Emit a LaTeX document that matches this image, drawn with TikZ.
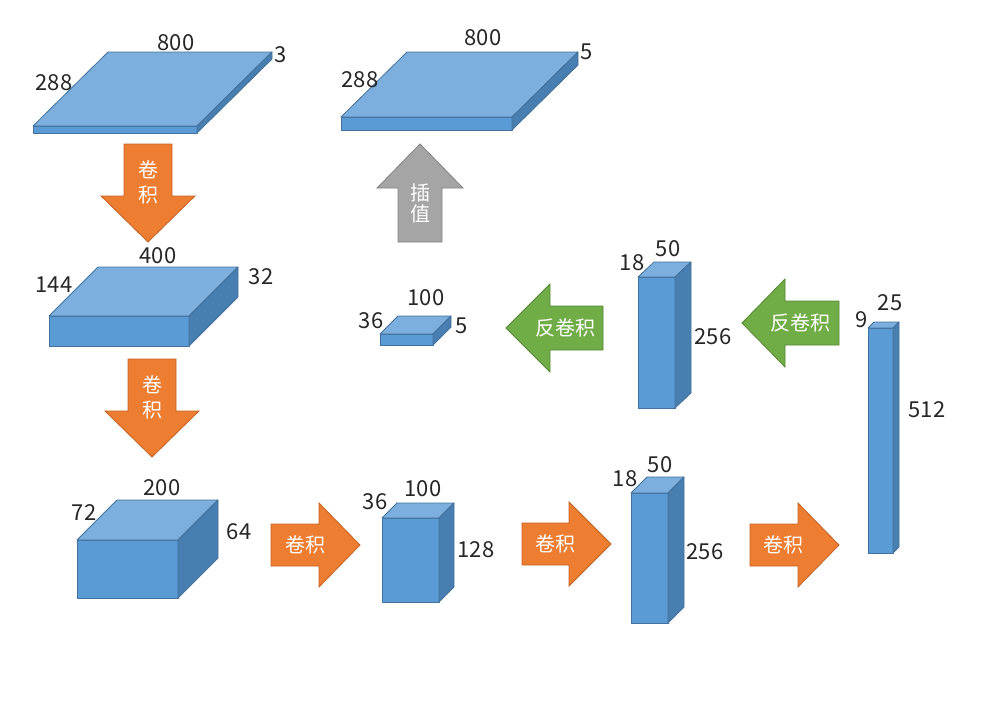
\documentclass[tikz,border=0pt]{standalone}
\usepackage{fontspec}
\setmainfont{Noto Sans CJK SC}
\usepackage{tikz}
\usetikzlibrary{positioning, calc}
\usepackage{xcolor}

\definecolor{boxfront}{RGB}{91,155,213}
\definecolor{boxtop}{RGB}{124,175,221}
\definecolor{boxside}{RGB}{73,126,176}
\definecolor{boxedge}{RGB}{65,113,156}
\definecolor{convorange}{RGB}{237,125,49}
\definecolor{convedge}{RGB}{196,98,36}
\definecolor{deconvgreen}{RGB}{112,173,71}
\definecolor{deconvedge}{RGB}{84,135,52}
\definecolor{interpgray}{RGB}{165,165,165}
\definecolor{interpedge}{RGB}{130,130,130}

% front face, top face, side face of a layer block
\newcommand{\layerbox}[6]{%
  \draw[frontface] (#1,#2) rectangle (#3,#4);
  \draw[topface] (#1,#2) -- ++(#5,-#6) -- ++(#3-#1,0) -- (#3,#2) -- cycle;
  \draw[sideface] (#3,#2) -- ++(#5,-#6) -- ++(0,#4-#2) -- (#3,#4) -- cycle;
}

\begin{document}
\begin{tikzpicture}[
    x=1pt, y=-1pt,
    frontface/.style={fill=boxfront, draw=boxedge, line width=0.8pt, line join=round},
    topface/.style={fill=boxtop, draw=boxedge, line width=0.8pt, line join=round},
    sideface/.style={fill=boxside, draw=boxedge, line width=0.8pt, line join=round},
    conv/.style={fill=convorange, draw=convedge, line width=0.8pt},
    deconv/.style={fill=deconvgreen, draw=deconvedge, line width=0.8pt},
    interp/.style={fill=interpgray, draw=interpedge, line width=0.8pt},
    dimlabel/.style={font=\fontsize{22}{26}\selectfont, inner sep=0pt, text=black!85},
    oplabel/.style={font=\fontsize{20}{25}\selectfont, inner sep=0pt, text=white, align=center}
]
    \useasboundingbox (0,0) rectangle (1001,720);

    % Input 288 x 800 x 3
    \layerbox{33}{126}{197}{133}{75}{74}
    \node[dimlabel] (inw) at (176,43) {800};
    \node[dimlabel] (inc) at (281,55) {3};
    \node[dimlabel] (inh) at (54,83) {288};

    % Output 288 x 800 x 5
    \layerbox{341}{117}{512}{130}{66}{65}
    \node[dimlabel] (outw) at (483,38) {800};
    \node[dimlabel] (outc) at (587,52) {5};
    \node[dimlabel] (outh) at (360,80) {288};

    % Conv1 output 144 x 400 x 32
    \layerbox{49}{316}{189}{346}{49}{49}
    \node[dimlabel] (c1w) at (158,256) {400};
    \node[dimlabel] (c1h) at (54,285) {144};
    \node[dimlabel] (c1c) at (261,277) {32};

    % Deconv output 36 x 100 x 5
    \layerbox{380}{334}{433}{345}{18}{18}
    \node[dimlabel] (d2w) at (426,298) {100};
    \node[dimlabel] (d2h) at (371,321) {36};
    \node[dimlabel] (d2c) at (462,326) {5};

    % Deconv output 18 x 50 x 256
    \layerbox{638}{277}{675}{408}{16}{15}
    \node[dimlabel] (d1h) at (632,263) {18};
    \node[dimlabel] (d1w) at (668,249) {50};
    \node[dimlabel] (d1c) at (713,337) {256};

    % Conv2 output 72 x 200 x 64
    \layerbox{77}{540}{178}{598}{40}{40}
    \node[dimlabel] (c2w) at (162,488) {200};
    \node[dimlabel] (c2h) at (84,513) {72};
    \node[dimlabel] (c2c) at (239,532) {64};

    % Conv3 output 36 x 100 x 128
    \layerbox{382}{518}{439}{602}{15}{15}
    \node[dimlabel] (c3h) at (375,502) {36};
    \node[dimlabel] (c3w) at (423,489) {100};
    \node[dimlabel] (c3c) at (476,550) {128};

    % Conv4 output 18 x 50 x 256
    \layerbox{631}{493}{668}{623}{16}{16}
    \node[dimlabel] (c4h) at (625,479) {18};
    \node[dimlabel] (c4w) at (660,465) {50};
    \node[dimlabel] (c4c) at (705,552) {256};

    % Conv5 output 9 x 25 x 512
    \layerbox{868}{328}{893}{553}{6}{6}
    \node[dimlabel] (c5h) at (862,320) {9};
    \node[dimlabel] (c5w) at (890,303) {25};
    \node[dimlabel] (c5c) at (927,410) {512};

    % Convolution arrows
    \draw[conv] (124,144) -- (172,144) -- (172,196) -- (195,196) -- (148,242) -- (101,196) -- (124,196) -- cycle;
    \node[oplabel, text depth=0pt] (op1) at (148,182) {卷\\积};
    \draw[conv] (128,359) -- (176,359) -- (176,411) -- (199,411) -- (152,457) -- (105,411) -- (128,411) -- cycle;
    \node[oplabel] (op2) at (152,397) {卷\\积};
    \draw[conv] (271,524) -- (319,524) -- (319,503) -- (360,545) -- (319,587) -- (319,566) -- (271,566) -- cycle;
    \node[oplabel] (op3) at (305,545) {卷积};
    \draw[conv] (522,523) -- (569,523) -- (569,502) -- (611,544) -- (569,586) -- (569,565) -- (522,565) -- cycle;
    \node[oplabel] (op4) at (555,544) {卷积};
    \draw[conv] (750,524) -- (798,524) -- (798,503) -- (839,545) -- (798,587) -- (798,566) -- (750,566) -- cycle;
    \node[oplabel] (op5) at (783,545) {卷积};

    % Deconvolution arrows
    \draw[deconv] (839,301) -- (839,345) -- (785,345) -- (785,367) -- (742,323) -- (785,279) -- (785,301) -- cycle;
    \node[oplabel] (op6) at (800,323) {反卷积};
    \draw[deconv] (603,306) -- (603,350) -- (550,350) -- (550,372) -- (506,328) -- (550,284) -- (550,306) -- cycle;
    \node[oplabel] (op7) at (565,328) {反卷积};

    % Interpolation arrow
    \draw[interp] (398,242) -- (442,242) -- (442,188) -- (463,188) -- (420,144) -- (377,188) -- (398,188) -- cycle;
    \node[oplabel, font=\fontsize{20}{21}\selectfont] (op8) at (420,203) {插\\值};

\end{tikzpicture}
\end{document}
